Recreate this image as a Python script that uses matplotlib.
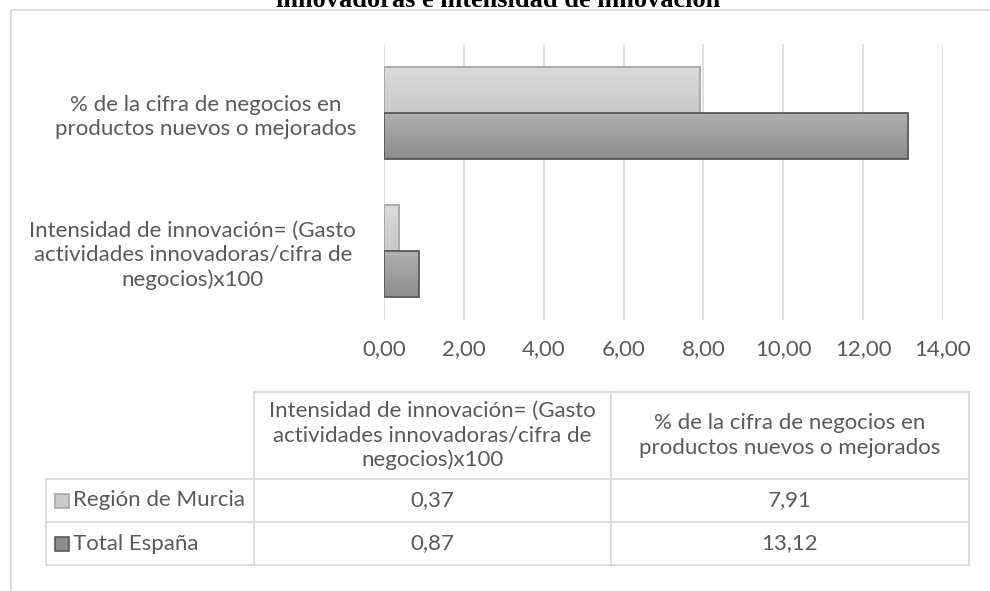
import numpy as np
import matplotlib
matplotlib.use("Agg")
import matplotlib.pyplot as plt
from matplotlib.colors import LinearSegmentedColormap
from matplotlib.patches import Rectangle

# ---- data -------------------------------------------------------------
categories = [
    "Intensidad de innovación= (Gasto\nactividades innovadoras/cifra de\nnegocios)x100",
    "% de la cifra de negocios en\nproductos nuevos o mejorados",
]
series_names = ["Región de Murcia", "Total España"]
murcia = [0.37, 7.91]
espana = [0.87, 13.12]
murcia_text = ["0,37", "7,91"]
espana_text = ["0,87", "13,12"]
xticks = [0, 2, 4, 6, 8, 10, 12, 14]
xtick_labels = ["0,00", "2,00", "4,00", "6,00", "8,00", "10,00", "12,00", "14,00"]
title = "innovadoras e intensidad de innovación"

# ---- styling ----------------------------------------------------------
W, H = 990, 591
FONT = "Lato"
TXT = "#595959"
GRID = "#d9d9d9"
FS = 16.0
LS = 1.27
light = ("#dadada", "#c9c9c9", "#a6a6a6")   # top, bottom, edge
dark = ("#b0b0b0", "#8c8c8c", "#595959")

plt.rcParams["font.family"] = [FONT, "DejaVu Sans"]

fig = plt.figure(figsize=(W / 100, H / 100), dpi=100)


def fx(x):
    return x / W


def fy(y):
    return 1 - y / H


# outer frame of the chart object
frame = fig.add_axes([0, 0, 1, 1])
frame.set_xlim(0, W)
frame.set_ylim(H, 0)
frame.axis("off")
frame.add_patch(Rectangle((11, 10), W + 20, H + 20, fill=False,
                          edgecolor=GRID, lw=1.3))
frame.text(498, 7, title, ha="center", va="baseline", fontsize=19,
           fontweight="bold", family="Liberation Serif", color="black")

# ---- bar chart --------------------------------------------------------
left, right, top, bottom = 384, 943, 44, 320
ax = fig.add_axes([fx(left), fy(bottom), fx(right - left), (bottom - top) / H])
ax.set_xlim(0, 14)
ax.set_ylim(-0.5, 1.5)
ax.set_xticks(xticks)
ax.set_xticklabels(xtick_labels)
ax.grid(axis="x", color=GRID, lw=1.2)
ax.set_axisbelow(True)
for s in ax.spines.values():
    s.set_visible(False)
ax.tick_params(length=0, labelsize=FS, labelcolor=TXT)
ax.tick_params(axis="x", pad=14)
ax.tick_params(axis="y", pad=20)

pos = np.arange(len(categories))
h = 1 / 3


def gradient_bars(values, offset, colors):
    cmap = LinearSegmentedColormap.from_list("g", [colors[1], colors[0]])
    bars = ax.barh(pos + offset, values, height=h, color="none",
                   edgecolor=colors[2], lw=1.3, zorder=3)
    grad = np.linspace(0, 1, 64).reshape(-1, 1)
    for b in bars:
        x0, y0 = b.get_x(), b.get_y()
        im = ax.imshow(grad, cmap=cmap, origin="lower", aspect="auto",
                       extent=(x0, x0 + b.get_width(), y0, y0 + b.get_height()),
                       zorder=2, interpolation="bicubic")
        im.set_clip_path(b)
    return bars


gradient_bars(murcia, h / 2, light)
gradient_bars(espana, -h / 2, dark)
ax.set_xlim(0, 14)
ax.set_ylim(-0.5, 1.5)
ax.set_yticks(pos)
ax.set_yticklabels(categories)
for t in ax.get_yticklabels():
    t.set_multialignment("center")
    t.set_linespacing(LS)

# ---- data table -------------------------------------------------------
tl, c1, c2, tr = 46, 254, 611, 969
ty, hb, r1, tb = 392, 479, 522, 565
lw = 1.3
frame.plot([c1, tr], [ty, ty], color=GRID, lw=lw)
for y in (hb, r1, tb):
    frame.plot([tl, tr], [y, y], color=GRID, lw=lw)
frame.plot([tl, tl], [hb, tb], color=GRID, lw=lw)
for x in (c1, c2, tr):
    frame.plot([x, x], [ty, tb], color=GRID, lw=lw)

hy = (ty + hb) / 2
col_x = [(c1 + c2) / 2, (c2 + tr) / 2]
for cx, label in zip(col_x, categories):
    frame.text(cx, hy, label, ha="center", va="center", ma="center",
               fontsize=FS, color=TXT, linespacing=LS)

rows = [(series_names[0], murcia_text, light), (series_names[1], espana_text, dark)]
for (name, vals, cols), (ya, yb) in zip(rows, [(hb, r1), (r1, tb)]):
    cy = (ya + yb) / 2
    frame.add_patch(Rectangle((55, cy - 7), 14, 14, facecolor=cols[1],
                              edgecolor=cols[2], lw=1.2))
    frame.text(73, cy, name, ha="left", va="center", fontsize=FS, color=TXT)
    for cx, v in zip(col_x, vals):
        frame.text(cx, cy, v, ha="center", va="center", fontsize=FS, color=TXT)

fig.savefig("out.png", dpi=100)
